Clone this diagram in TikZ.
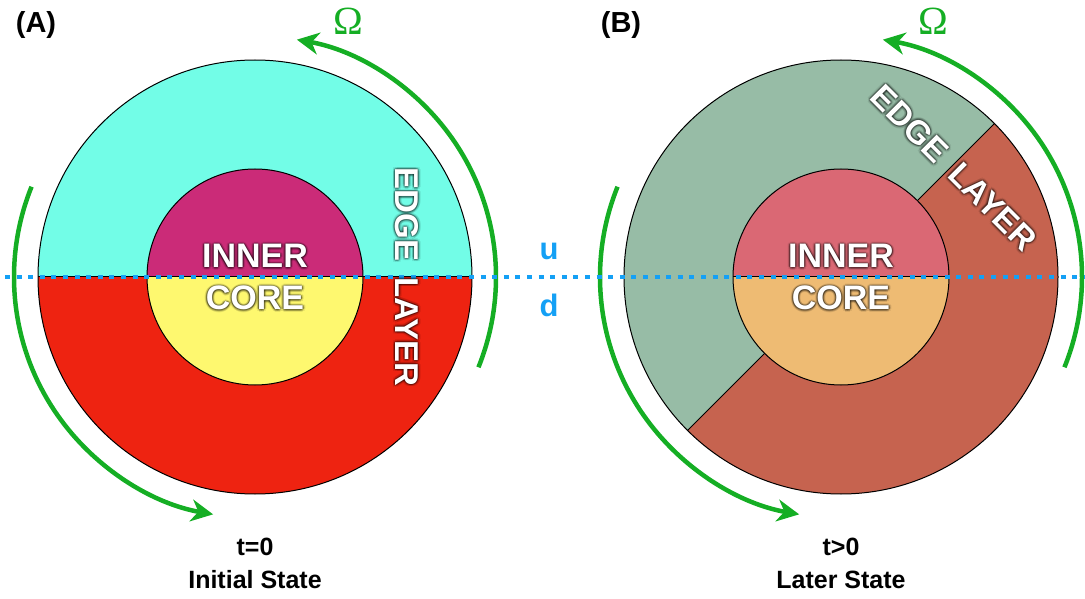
\documentclass[tikz,border=0pt]{standalone}
\usepackage{fontspec}
\setmainfont{Liberation Sans}
\newfontfamily\omegafont{Liberation Serif}
\usetikzlibrary{arrows.meta}
\usetikzlibrary{calc}

\definecolor{edgecyan}{RGB}{114,253,231}
\definecolor{edgered}{RGB}{238,35,17}
\definecolor{coremagenta}{RGB}{203,43,120}
\definecolor{coreyellow}{RGB}{254,248,111}
\definecolor{edgesage}{RGB}{151,188,166}
\definecolor{edgebrick}{RGB}{198,99,79}
\definecolor{corerose}{RGB}{218,104,116}
\definecolor{coretan}{RGB}{238,187,115}
\definecolor{spingreen}{RGB}{21,174,36}
\definecolor{splitblue}{RGB}{20,160,245}

\newcommand\glowlabel[4]{%
  \foreach \r/\o in {2.6pt/0.09,1.3pt/0.15}{
    \foreach \a in {0,45,...,315}
      \node[#3, text=black, text opacity=\o] at ($(#2)+(\a:\r)$) {#4};
  }
  \node[#3] (#1) at (#2) {#4};
}

\begin{document}
\begin{tikzpicture}[x=1pt, y=1pt,
    rim/.style={draw=black, line width=1pt},
    spin/.style={draw=spingreen, line width=4.5pt,
                 -{Stealth[length=22pt, width=22pt, inset=7pt]}},
    split/.style={draw=splitblue, line width=4pt, dash pattern=on 5pt off 6.6pt},
    panel/.style={font=\fontsize{29}{29}\selectfont\bfseries, inner sep=0pt},
    caption/.style={font=\fontsize{25}{25}\selectfont\bfseries, inner sep=0pt, anchor=base},
    layer/.style={font=\fontsize{33}{33}\selectfont\bfseries, text=white, inner sep=0pt},
    corelbl/.style={font=\fontsize{34}{34}\selectfont\bfseries, text=white, inner sep=0pt, anchor=base},
    updown/.style={font=\fontsize{31}{31}\selectfont\bfseries, text=splitblue, inner sep=0pt, anchor=base},
    omega/.style={font=\omegafont\fontsize{40}{40}\selectfont, text=spingreen, inner sep=0pt}]
  \useasboundingbox (0,0) rectangle (1085,598);
  \coordinate (A) at (255,321);
  \coordinate (B) at (841,321);

  % (A) initial state
  \fill[edgecyan] (A) ++(217,0) arc (0:180:217) -- cycle;
  \fill[edgered] (A) ++(-217,0) arc (180:360:217) -- cycle;
  \fill[coremagenta] (A) ++(108,0) arc (0:180:108) -- cycle;
  \fill[coreyellow] (A) ++(-108,0) arc (180:360:108) -- cycle;
  \draw[rim] (A) circle (217);
  \draw[rim] (A) circle (108);
  \draw[rim] ($(A)+(-217,0)$) -- ($(A)+(217,0)$);

  % (B) later state
  \fill[edgesage] (B) -- ++(45:217) arc (45:225:217) -- cycle;
  \fill[edgebrick] (B) -- ++(225:217) arc (225:405:217) -- cycle;
  \fill[corerose] (B) ++(108,0) arc (0:180:108) -- cycle;
  \fill[coretan] (B) ++(-108,0) arc (180:360:108) -- cycle;
  \draw[rim] (B) circle (217);
  \draw[rim] (B) circle (108);
  \draw[rim] ($(B)+(45:108)$) -- ($(B)+(45:217)$);
  \draw[rim] ($(B)+(225:108)$) -- ($(B)+(225:217)$);
  \draw[rim] ($(B)+(-108,0)$) -- ($(B)+(108,0)$);

  % rotation arrows
  \draw[spin] (A) ++(-22:241) arc (-22:80:241);
  \draw[spin] (A) ++(158:241) arc (158:260:241);
  \draw[spin] (B) ++(-22:241) arc (-22:80:241);
  \draw[spin] (B) ++(158:241) arc (158:260:241);

  % up/down split
  \coordinate (splitL) at (5,321);
  \coordinate (splitR) at (1085,321);
  \draw[split] (splitL) -- (splitR);
  \node[updown] (up) at (549,338) {u};
  \node[updown] (down) at (549,281) {d};

  % labels
  \glowlabel{innerA}{255,330}{corelbl}{INNER}
  \glowlabel{coreA}{255,288}{corelbl}{CORE}
  \glowlabel{edgeA}{407,321}{layer, rotate=-90}{EDGE\hspace{16pt}LAYER}
  \glowlabel{innerB}{841,330}{corelbl}{INNER}
  \glowlabel{coreB}{841,288}{corelbl}{CORE}
  \glowlabel{edgeB}{954,430}{layer, rotate=-45}{EDGE\hspace{16pt}LAYER}

  \node[omega] (omegaA) at (348,577) {Ω};
  \node[omega] (omegaB) at (933,577) {Ω};
  \node[panel] (tagA) at (36,573) {(A)};
  \node[panel] (tagB) at (621,573) {(B)};

  \node[caption] (timeA) at (255,43) {t=0};
  \node[caption] (stateA) at (255,10) {Initial State};
  \node[caption] (timeB) at (841,43) {t>0};
  \node[caption] (stateB) at (841,10) {Later State};
\end{tikzpicture}
\end{document}
